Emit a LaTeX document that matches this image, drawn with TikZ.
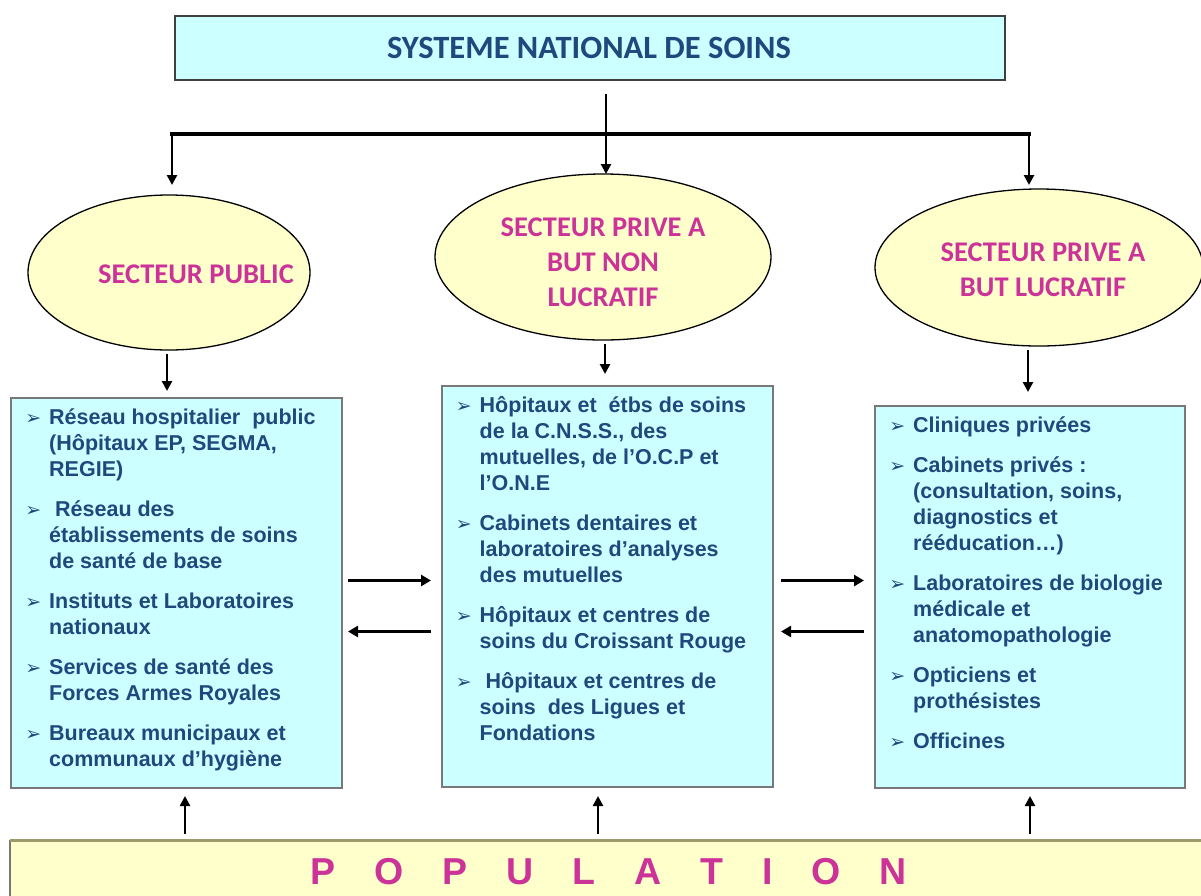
\documentclass[tikz,border=0pt]{standalone}
\usepackage{fontspec}
\setmainfont{Liberation Sans}
\newfontfamily\calfont{Carlito}
\newfontfamily\dvfont{DejaVu Sans}
\usetikzlibrary{shapes.geometric,arrows.meta}

\definecolor{txtblue}{RGB}{31,73,125}
\definecolor{mag}{RGB}{204,51,153}
\definecolor{cyanfill}{RGB}{204,255,255}
\definecolor{yelfill}{RGB}{255,255,204}
\definecolor{boxline}{RGB}{120,120,120}

% arrowhead bullet hung in the left margin of an item
\newcommand\itembul{\leavevmode\llap{{\dvfont\fontsize{19}{19}\selectfont ➢}\hspace{8pt}}}
% column of items inside a blue box
\newcommand\itemcol[1]{\parbox[t]{305pt}{\leavevmode\raggedright\fontsize{21.5}{26}\selectfont\bfseries#1}}

\tikzset{
  bluebox/.style={draw=boxline, line width=1.5pt, fill=cyanfill, inner sep=0pt, anchor=north west},
  itemlist/.style={anchor=base west, inner sep=0pt, text=txtblue},
  sector/.style={ellipse, draw=black, line width=1.3pt, fill=yelfill, inner sep=0pt},
  sectortext/.style={text=mag, align=center, font=\calfont\bfseries\fontsize{28.5}{35}\selectfont, inner sep=0pt},
  arr/.style={line width=2.5pt, -{Triangle[length=10pt,width=10pt]}},
  harr/.style={line width=3.5pt, -{Triangle[length=10pt,width=11pt]}},
}

\begin{document}
\begin{tikzpicture}[x=1pt, y=-1pt]
\useasboundingbox (0,0) rectangle (1201,895);
\fill[white] (0,0) rectangle (1201,895);

% title
\node[draw=black!75, line width=1.5pt, fill=cyanfill, minimum width=830pt, minimum height=64pt, inner sep=0pt,
      anchor=north west] (title) at (174,15) {};
\node[text=txtblue, font=\calfont\bfseries\fontsize{32.5}{36}\selectfont, inner sep=0pt] (titletxt) at (589,47.5)
  {SYSTEME NATIONAL DE SOINS};

% sectors
\node[sector, minimum width=282pt, minimum height=155pt] (ellL) at (169,272.5) {};
\node[sector, minimum width=336pt, minimum height=166pt] (ellM) at (603,257) {};
\node[sector, minimum width=328pt, minimum height=157pt] (ellR) at (1039,267.5) {};
\node[sectortext] (tL) at (196,274) {SECTEUR PUBLIC};
\node[sectortext] (tM) at (603,262.5) {SECTEUR PRIVE A\\BUT NON\\LUCRATIF};
\node[sectortext] (tR) at (1043,270) {SECTEUR PRIVE A\\BUT LUCRATIF};

% distribution from the title to the three sectors
\coordinate (stem) at (606,94);
\coordinate (hub) at (606,134);
\coordinate (barL) at (172,134);
\coordinate (barR) at (1029,134);
\coordinate (inL) at (172,185);
\coordinate (inM) at (606,174);
\coordinate (inR) at (1029,185);
\draw[line width=2.5pt] (stem) -- (hub);
\draw[line width=4pt, line cap=rect] (barL) -- (barR);
\draw[arr] (barL) -- (inL);
\draw[arr] (hub) -- (inM);
\draw[arr] (barR) -- (inR);

% boxes of establishments
\node[bluebox, minimum width=331pt, minimum height=390pt] (boxL) at (10,397) {};
\node[bluebox, minimum width=331pt, minimum height=401pt] (boxM) at (441,385) {};
\node[bluebox, minimum width=310pt, minimum height=382pt] (boxR) at (874,405) {};

% sector to box
\coordinate (oL) at (167,354);
\coordinate (dL) at (167,391);
\coordinate (oM) at (605,344);
\coordinate (dM) at (605,374);
\coordinate (oR) at (1028,350);
\coordinate (dR) at (1028,392);
\draw[arr] (oL) -- (dL);
\draw[arr] (oM) -- (dM);
\draw[arr] (oR) -- (dR);

\node[itemlist] (listL) at (49,424) {\itemcol{%
\itembul Réseau hospitalier~ public\\
(Hôpitaux EP, SEGMA,\\
REGIE)\\[14pt]
\itembul\ Réseau des\\
établissements de soins\\
de santé de base\\[14pt]
\itembul Instituts et Laboratoires\\
nationaux\\[14pt]
\itembul Services de santé des\\
Forces Armes Royales\\[14pt]
\itembul Bureaux municipaux et\\
communaux d’hygiène}};

\node[itemlist] (listM) at (479.5,412.5) {\itemcol{%
\itembul Hôpitaux et~ étbs de soins\\
de la C.N.S.S., des\\
mutuelles, de l’O.C.P et\\
l’O.N.E\\[14pt]
\itembul Cabinets dentaires et\\
laboratoires d’analyses\\
des mutuelles\\[14pt]
\itembul Hôpitaux et centres de\\
soins du Croissant Rouge\\[14pt]
\itembul\ Hôpitaux et centres de\\
soins~ des Ligues et\\
Fondations}};

\node[itemlist] (listR) at (913,432.5) {\itemcol{%
\itembul Cliniques privées\\[14pt]
\itembul Cabinets privés :\\
(consultation, soins,\\
diagnostics et\\
rééducation…)\\[14pt]
\itembul Laboratoires de biologie\\
médicale et\\
anatomopathologie\\[14pt]
\itembul Opticiens et\\
prothésistes\\[14pt]
\itembul Officines}};

% exchanges between neighbouring boxes
\coordinate (a1) at (348,580.5);
\coordinate (a2) at (431,580.5);
\coordinate (a3) at (431,631.5);
\coordinate (a4) at (348,631.5);
\coordinate (b1) at (781,580.5);
\coordinate (b2) at (864,580.5);
\coordinate (b3) at (864,631.5);
\coordinate (b4) at (781,631.5);
\draw[harr] (a1) -- (a2);
\draw[harr] (a3) -- (a4);
\draw[harr] (b1) -- (b2);
\draw[harr] (b3) -- (b4);

% population
\fill[yelfill] (10,840) rectangle (1210,900);
\draw[boxline, line width=1.5pt] (10,900) -- (10,840);
\draw[black!45!olive!60, line width=3pt] (10,840) -- (1210,840);
\node[anchor=base west, inner sep=0pt, text=mag, font=\bfseries\fontsize{37.5}{40}\selectfont] (pop) at (310,884)
  {\spaceskip=39pt\relax P O P U L A T I O N};

\coordinate (uL) at (185,834);
\coordinate (vL) at (185,796);
\coordinate (uM) at (598,834);
\coordinate (vM) at (598,796);
\coordinate (uR) at (1030,834);
\coordinate (vR) at (1030,796);
\draw[arr] (uL) -- (vL);
\draw[arr] (uM) -- (vM);
\draw[arr] (uR) -- (vR);
\end{tikzpicture}
\end{document}
